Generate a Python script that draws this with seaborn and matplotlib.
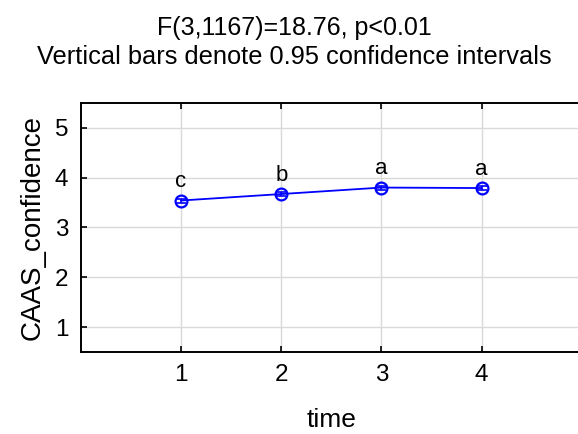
# Means plot with 95% CI bars for CAAS_confidence over time
import numpy as np
import pandas as pd
import seaborn as sns
import matplotlib.pyplot as plt

time = [1, 2, 3, 4]
means = [3.54, 3.67, 3.80, 3.79]
ci_half = [0.04, 0.04, 0.04, 0.04]
groups = ['c', 'b', 'a', 'a']

df = pd.DataFrame({'time': time, 'CAAS_confidence': means})

sns.set_style('white')
plt.rcParams['font.family'] = ['Liberation Sans', 'DejaVu Sans']
plt.rcParams['text.color'] = 'black'
plt.rcParams['axes.labelcolor'] = 'black'

fig = plt.figure(figsize=(5.78, 4.34), dpi=100)
ax = fig.add_axes([0.140, 0.189, 1.040, 0.574])

sns.lineplot(data=df, x='time', y='CAAS_confidence', ax=ax, color='#0000ff',
             linewidth=1.3, marker='o', markersize=8.5, markerfacecolor='none',
             markeredgecolor='#0000ff', markeredgewidth=1.6)
ax.errorbar(df['time'], df['CAAS_confidence'], yerr=ci_half, fmt='none',
            ecolor='#0000ff', elinewidth=1.2, capsize=3.5, capthick=1.2)

for x, y, g in zip(time, means, groups):
    ax.annotate(g, (x, y), xytext=(0, 6), textcoords='offset points',
                ha='center', va='bottom', fontsize=16)

ax.set_xlim(0, 6)
ax.set_ylim(0.5, 5.5)
ax.set_xticks(time)
ax.set_yticks([1, 2, 3, 4, 5])
ax.grid(True, color='#d9d9d9', linewidth=1.0)
ax.set_axisbelow(True)
ax.tick_params(direction='in', length=4, width=1.2, colors='black', labelsize=17.5,
               pad=9, bottom=True, left=True, top=True)
for s in ['left', 'top', 'bottom']:
    ax.spines[s].set_color('black')
    ax.spines[s].set_linewidth(1.4)
ax.spines['right'].set_visible(False)
ax.set_xlabel('')
ax.set_ylabel('CAAS_confidence', fontsize=20, labelpad=7)

fig.text(0.51, 0.935, 'F(3,1167)=18.76, p<0.01', ha='center', va='center', fontsize=18)
fig.text(0.51, 0.869, 'Vertical bars denote 0.95 confidence intervals', ha='center',
         va='center', fontsize=18.3)
fig.text(332 / 578, 0.032, 'time', ha='center', va='center', fontsize=19)

fig.savefig('out.png', dpi=100)
